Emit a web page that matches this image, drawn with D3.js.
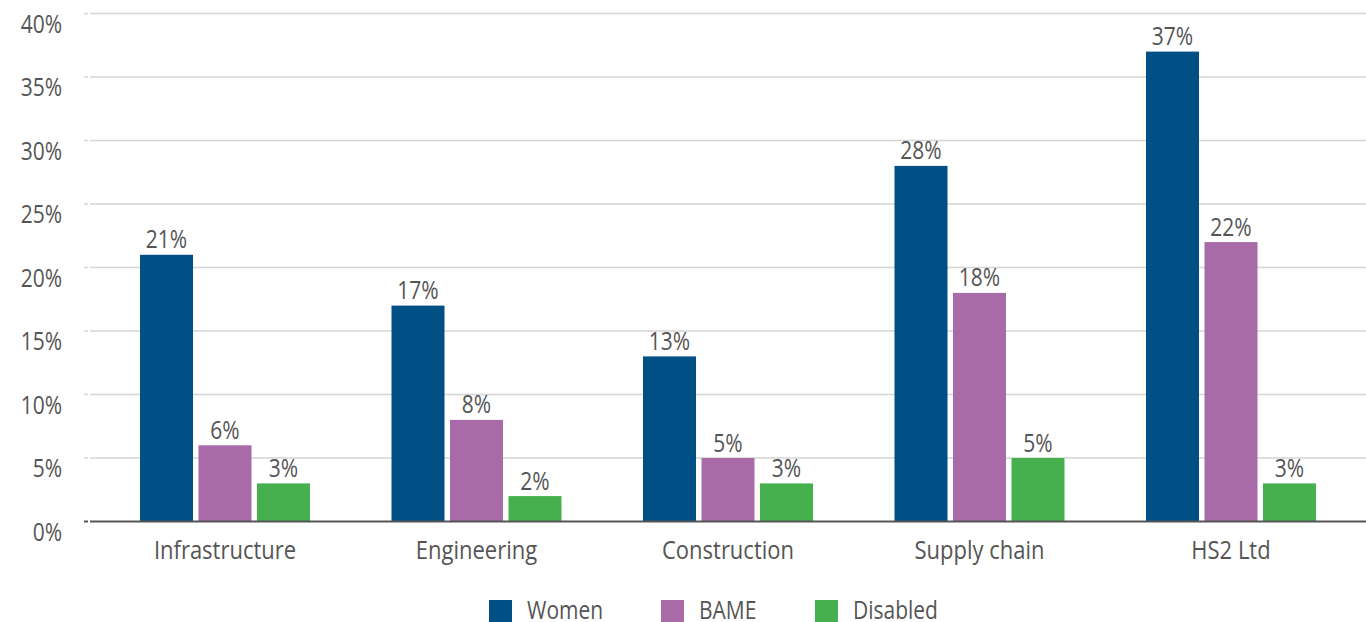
<!DOCTYPE html>
<html>
<head>
<meta charset="utf-8">
<script src="https://cdn.jsdelivr.net/npm/d3@7"></script>
<style>
  body { margin: 0; background: #fff; }
  svg { display: block; font-family: "Open Sans", sans-serif; }
</style>
</head>
<body>
<div id="chart"></div>
<script>
var categories = ["Infrastructure", "Engineering", "Construction", "Supply chain", "HS2 Ltd"];
var seriesNames = ["Women", "BAME", "Disabled"];
var women = [21, 17, 13, 28, 37];
var bame = [6, 8, 5, 18, 22];
var disabled = [3, 2, 3, 5, 3];
var yTicks = [0, 5, 10, 15, 20, 25, 30, 35, 40];
var colors = ["#004f85", "#a96aa8", "#47b04e"];

var width = 1366, height = 622;
var textColor = "#555";
var stretch = 1.18; // the reference text looks a bit taller than wide

function place(x, y) {
  return "translate(" + x + "," + y + ") scale(1," + stretch + ")";
}

var svg = d3.select("#chart").append("svg")
    .attr("width", width)
    .attr("height", height);

var y = d3.scaleLinear().domain([0, 40]).range([521.5, 13.5]);

var x0 = d3.scaleBand().domain(categories).range([99.25, 1356.75]).padding(0);
var x1 = d3.scaleBand().domain(seriesNames).range([0, 170]).paddingInner(0.094).paddingOuter(0);

var rows = categories.map(function(c, i) {
  return { cat: c, values: [women[i], bame[i], disabled[i]] };
});

// gridlines
var grid = svg.append("g").attr("class", "grid");
grid.selectAll("line.g")
    .data(yTicks.filter(function(t) { return t > 0; }))
    .enter().append("line")
    .attr("x1", 90).attr("x2", width)
    .attr("y1", function(d) { return y(d); })
    .attr("y2", function(d) { return y(d); })
    .attr("stroke", "#d4d4d4").attr("stroke-width", 1.5);
grid.selectAll("line.t")
    .data(yTicks)
    .enter().append("line")
    .attr("x1", 84).attr("x2", 88)
    .attr("y1", function(d) { return y(d); })
    .attr("y2", function(d) { return y(d); })
    .attr("stroke", function(d) { return d === 0 ? "#555" : "#d4d4d4"; })
    .attr("stroke-width", function(d) { return d === 0 ? 2 : 1.5; });

// y labels
svg.append("g").selectAll("text")
    .data(yTicks)
    .enter().append("text")
    .attr("transform", function(d) { return place(62, y(d) + 19); })
    .attr("text-anchor", "end")
    .attr("font-size", 21)
    .attr("fill", textColor)
    .text(function(d) { return d + "%"; });

// bars
var groups = svg.append("g").selectAll("g")
    .data(rows)
    .enter().append("g")
    .attr("transform", function(d) {
      return "translate(" + (x0(d.cat) + (x0.bandwidth() - 170) / 2) + ",0)";
    });

groups.selectAll("rect")
    .data(function(d) { return d.values.map(function(v, j) { return { key: seriesNames[j], value: v, idx: j }; }); })
    .enter().append("rect")
    .attr("x", function(d) { return x1(d.key); })
    .attr("y", function(d) { return y(d.value); })
    .attr("width", x1.bandwidth())
    .attr("height", function(d) { return y(0) - y(d.value); })
    .attr("fill", function(d) { return colors[d.idx]; });

groups.selectAll("text")
    .data(function(d) { return d.values.map(function(v, j) { return { key: seriesNames[j], value: v }; }); })
    .enter().append("text")
    .attr("transform", function(d) { return place(x1(d.key) + x1.bandwidth() / 2, y(d.value) - 6.5); })
    .attr("text-anchor", "middle")
    .attr("font-size", 21)
    .attr("fill", textColor)
    .text(function(d) { return d.value + "%"; });

// baseline
svg.append("line")
    .attr("x1", 90).attr("x2", width)
    .attr("y1", y(0)).attr("y2", y(0))
    .attr("stroke", "#555").attr("stroke-width", 2);

// x labels
svg.append("g").selectAll("text")
    .data(categories)
    .enter().append("text")
    .attr("transform", function(d) { return place(x0(d) + x0.bandwidth() / 2, 559); })
    .attr("text-anchor", "middle")
    .attr("font-size", 22)
    .attr("fill", textColor)
    .text(function(d) { return d; });

// legend
var legendX = [489, 661, 815];
var legend = svg.append("g").selectAll("g")
    .data(seriesNames)
    .enter().append("g")
    .attr("transform", function(d, i) { return "translate(" + legendX[i] + ",600)"; });
legend.append("rect")
    .attr("width", 23).attr("height", 23)
    .attr("fill", function(d, i) { return colors[i]; });
legend.append("text")
    .attr("transform", place(38, 18.5))
    .attr("font-size", 21)
    .attr("fill", textColor)
    .text(function(d) { return d; });
</script>
</body>
</html>
